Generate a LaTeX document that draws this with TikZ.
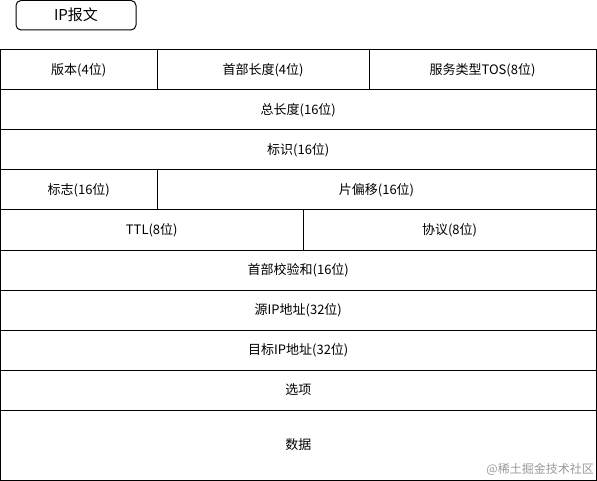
\documentclass[tikz,border=0pt]{standalone}
\usepackage{fontspec}
\setmainfont{Noto Sans CJK SC}
\usepackage{tikz}
\usetikzlibrary{positioning}

\begin{document}
\begin{tikzpicture}[x=1pt,y=-1pt]
	\tikzset{field/.style={draw,line width=1pt,inner sep=0pt,minimum height=40pt,font=\fontsize{13}{15}\selectfont},
		title/.style={draw,line width=1pt,rounded corners=5pt,inner sep=0pt,minimum width=120pt,minimum height=29.5pt,font=\fontsize{15}{17}\selectfont}}
	\useasboundingbox (0,0) rectangle (597,481);
	\node[title] (ip) at (76,15.25) {IP报文};
	\node[field,minimum width=156.5pt] (ver) at (78.75,70) {版本(4位)};
	\node[field,minimum width=212pt] (hlen) at (263,70) {首部长度(4位)};
	\node[field,minimum width=227pt] (tos) at (482.5,70) {服务类型TOS(8位)};
	\node[field,minimum width=595.5pt] (tlen) at (298.25,110) {总长度(16位)};
	\node[field,minimum width=595.5pt] (id) at (298.25,150) {标识(16位)};
	\node[field,minimum width=156.5pt] (flag) at (78.75,190) {标志(16位)};
	\node[field,minimum width=439pt] (off) at (376.5,190) {片偏移(16位)};
	\node[field,minimum width=302.5pt] (ttl) at (151.75,230) {TTL(8位)};
	\node[field,minimum width=293pt] (proto) at (449.5,230) {协议(8位)};
	\node[field,minimum width=595.5pt] (sum) at (298.25,270) {首部校验和(16位)};
	\node[field,minimum width=595.5pt] (src) at (298.25,310) {源IP地址(32位)};
	\node[field,minimum width=595.5pt] (dst) at (298.25,350) {目标IP地址(32位)};
	\node[field,minimum width=595.5pt] (opt) at (298.25,390) {选项};
	\node[field,minimum width=595.5pt,minimum height=70pt] (data) at (298.25,445) {数据};
	\node[anchor=east,text=black!40,inner sep=0pt,font=\fontsize{12}{14}\selectfont] (mark) at (594,469) {@稀土掘金技术社区};
\end{tikzpicture}
\end{document}
